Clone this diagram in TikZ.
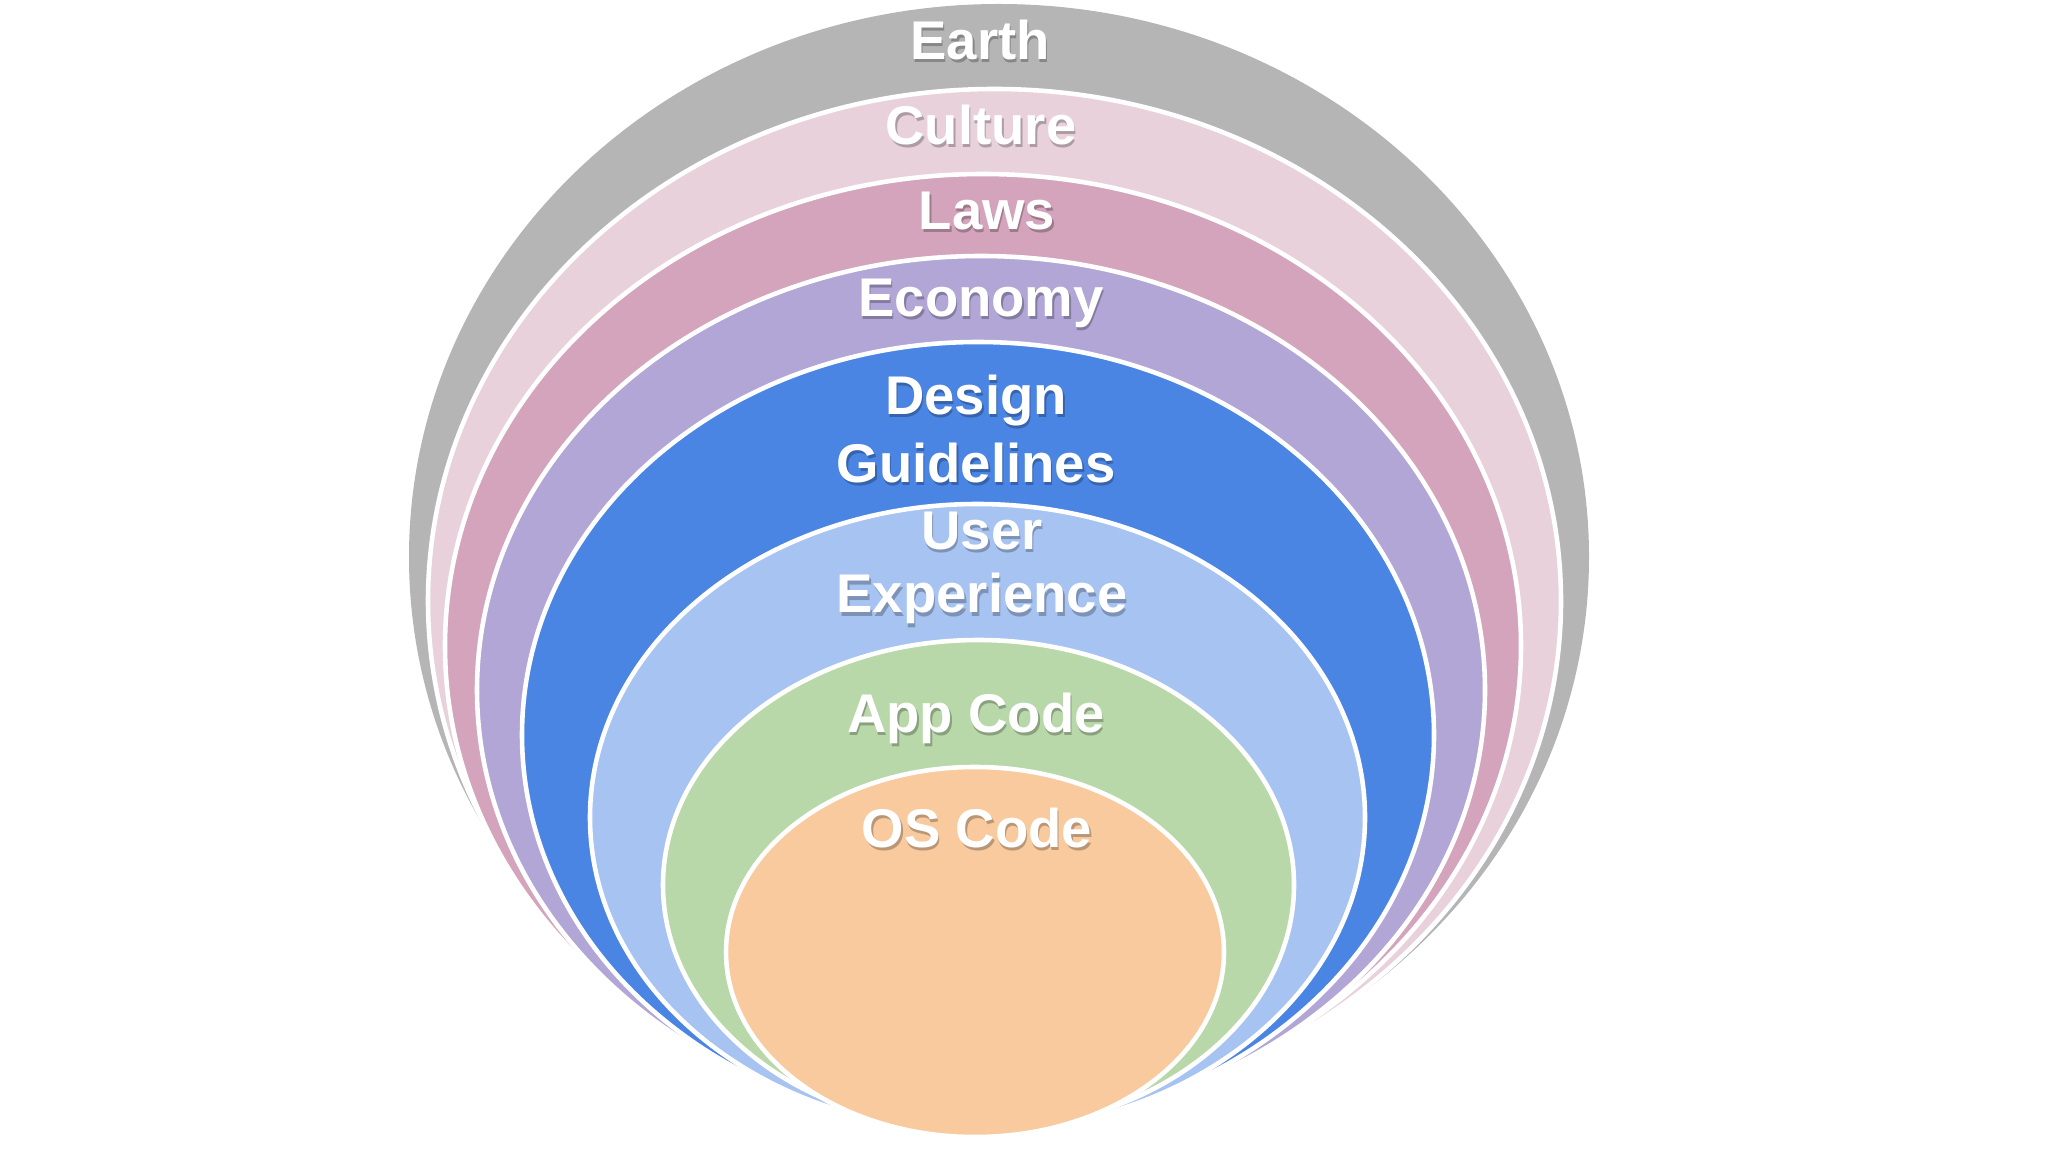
\documentclass[tikz,border=0pt]{standalone}
\usepackage{fontspec}
\setmainfont{Liberation Sans}
\definecolor{earthgray}{HTML}{B5B5B5}
\definecolor{culturepink}{HTML}{E9D1DB}
\definecolor{lawsrose}{HTML}{D4A4BC}
\definecolor{economylilac}{HTML}{B1A6D6}
\definecolor{designblue}{HTML}{4A85E4}
\definecolor{uxblue}{HTML}{A7C3F1}
\definecolor{appgreen}{HTML}{B8D8A9}
\definecolor{ospeach}{HTML}{F8CA9E}

% label with a soft shadow below it
\newcommand{\layerlabel}[3]{%
  \node[shade,xshift=0.015cm,yshift=-0.03cm] (#1-sh) at (#2) {#3};
  \node[lbl] (#1) at (#2) {#3};}

\begin{document}
\begin{tikzpicture}[x=0.01cm,y=-0.01cm,
    ring/.style={draw=white,line width=1.3pt},
    lbl/.style={text=white,font=\bfseries\fontsize{15.5}{19.5}\selectfont,
      align=center,anchor=base,inner sep=0pt},
    shade/.style={lbl,text=black,text opacity=0.25}]
    \useasboundingbox (0,0) rectangle (2048,1152);
    \fill[white] (0,0) rectangle (2048,1152);

    % layers, outside in (centre, then radii)
    \draw[ring,draw=none,fill=earthgray] (999,557) ellipse (590 and 553);
    \draw[ring,fill=culturepink] (994.5,601) ellipse (566.5 and 512);
    \draw[ring,fill=lawsrose] (983,646) ellipse (538 and 472);
    \draw[ring,fill=economylilac] (981,690) ellipse (504 and 434);
    \draw[ring,fill=designblue] (978,735) ellipse (456 and 393);
    \draw[ring,fill=uxblue] (977.5,817.5) ellipse (387.5 and 313.5);
    \draw[ring,fill=appgreen] (978.5,885) ellipse (315.5 and 245);
    \draw[ring,fill=ospeach] (975,952) ellipse (249 and 185);

    \layerlabel{earth}{980,60}{Earth}
    \layerlabel{culture}{981,145}{Culture}
    \layerlabel{laws}{987,230}{Laws}
    \layerlabel{economy}{981,317}{Economy}
    \layerlabel{design}{976,483}{Design\\Guidelines}
    \layerlabel{ux}{982,613}{User\\[-0.05cm]Experience}
    \layerlabel{app}{976,732}{App Code}
    \layerlabel{os}{977,847}{OS Code}
\end{tikzpicture}
\end{document}
